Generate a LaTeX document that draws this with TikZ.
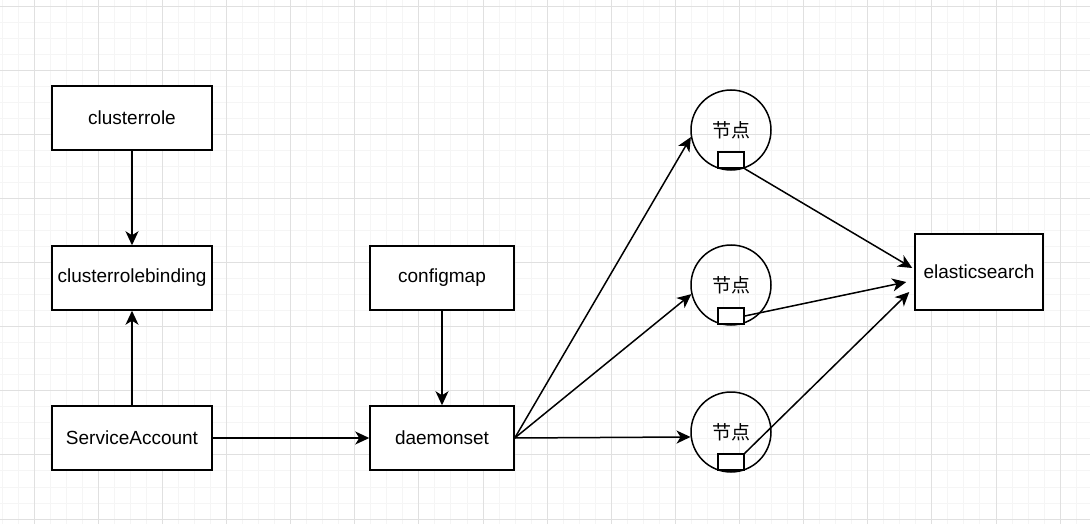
\documentclass[tikz,border=0pt]{standalone}
\usepackage{fontspec}
\setmainfont{Liberation Sans}
\newfontfamily\cjkfont{Noto Sans CJK SC}
\usetikzlibrary{arrows.meta}

\tikzset{
    box/.style={draw, fill=white, line width=1.5pt, minimum width=160pt, minimum height=64pt, inner sep=0pt, font=\fontsize{19}{22}\selectfont},
    host/.style={draw, circle, line width=1.5pt, minimum size=80pt, inner sep=0pt, font=\cjkfont\fontsize{19}{22}\selectfont},
    port/.style={draw, fill=white, line width=1.5pt, minimum width=26pt, minimum height=16pt, inner sep=0pt},
    link/.style={line width=1.5pt, -{Stealth[length=14pt,width=13pt,inset=4pt]}},
    gridminor/.style={draw=black!4, line width=0.8pt},
    gridmajor/.style={draw=black!12, line width=0.8pt}
}

\begin{document}
\begin{tikzpicture}[x=1pt, y=-1pt]
        \useasboundingbox (0,0) rectangle (1090,524);

        % background grid
        \foreach \k in {0,...,67}
            \draw[gridminor] ({2.05+16.03*\k},0) -- ++(0,524);
        \foreach \k in {0,...,32}
            \draw[gridminor] (0,{6+16.03*\k}) -- ++(1090,0);
        \foreach \k in {0,...,16}
            \draw[gridmajor] ({34.1+64.12*\k},0) -- ++(0,524);
        \foreach \k in {0,...,8}
            \draw[gridmajor] (0,{6+64.12*\k}) -- ++(1090,0);

        % rbac column
        \node[box] (role) at (132, 118) {clusterrole};
        \node[box] (binding) at (132, 278) {clusterrolebinding};
        \node[box] (account) at (132, 438) {ServiceAccount};

        % workload
        \node[box, minimum width=144pt] (config) at (442, 278) {configmap};
        \node[box, minimum width=144pt] (daemon) at (442, 438) {daemonset};

        % hosts
        \node[host] (host1) at (731, 130) {节点};
        \node[host] (host2) at (731, 285) {节点};
        \node[host] (host3) at (731, 432) {节点};

        \node[box, minimum width=128pt, minimum height=76pt] (es) at (979, 272) {elasticsearch};

        \coordinate (in1) at ([shift={(-2pt,4pt)}]es.west);
        \coordinate (in2) at ([shift={(-8pt,-10pt)}]es.west);
        \coordinate (in3) at ([shift={(-5pt,-20pt)}]es.west);

        \draw[link] (role) -- (binding);
        \draw[link] (account) -- (binding);
        \draw[link] (account) -- (daemon);
        \draw[link] (config) -- (daemon);

        \draw[link] (daemon.east) -- (host1.190);
        \draw[link] (daemon.east) -- (host2.193);
        \draw[link] (daemon.east) -- (host3.187);

        % log agents
        \node[port] (port1) at (731, 160) {};
        \node[port] (port2) at (731, 316) {};
        \node[port] (port3) at (731, 462) {};

        \draw[link] (port1.south east) -- (in1);
        \draw[link] (port2.east) -- (in2);
        \draw[link] (port3.north east) -- (in3);

\end{tikzpicture}
\end{document}
